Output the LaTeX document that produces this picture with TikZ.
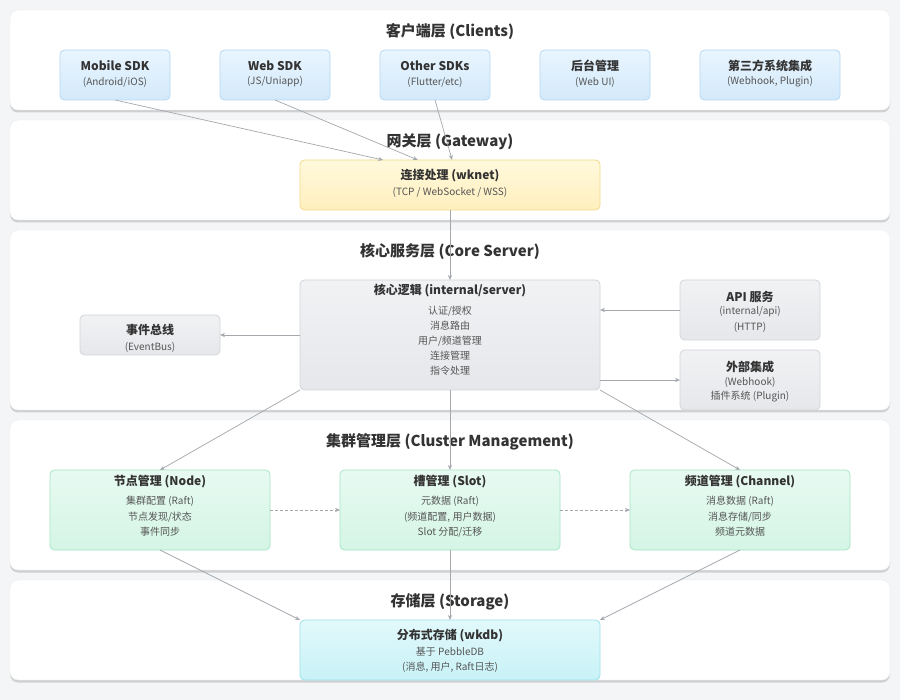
\documentclass[tikz,border=0pt]{standalone}
\usepackage{fontspec}
\setmainfont{Noto Sans CJK SC}
\usetikzlibrary{shadows,arrows.meta,calc}
\definecolor{bgc}{HTML}{F4F5F7}
\definecolor{ttlc}{HTML}{333333}
\definecolor{subc}{HTML}{555555}
\definecolor{arrc}{HTML}{A4A8AD}
\definecolor{cliT}{HTML}{E9F5FE}\definecolor{cliB}{HTML}{D3E9FB}\definecolor{cliD}{HTML}{B3D8F4}
\definecolor{gwT}{HTML}{FFF9DC}\definecolor{gwB}{HTML}{FFEFBE}\definecolor{gwD}{HTML}{F3DA8A}
\definecolor{coT}{HTML}{F1F2F4}\definecolor{coB}{HTML}{E5E7EA}\definecolor{coD}{HTML}{D2D5D9}
\definecolor{clT}{HTML}{E8FAF2}\definecolor{clB}{HTML}{D4F5E5}\definecolor{clD}{HTML}{A6E6C7}
\definecolor{stT}{HTML}{E2F9FB}\definecolor{stB}{HTML}{C8F2F7}\definecolor{stD}{HTML}{9DE2EC}
\begin{document}
\begin{tikzpicture}[x=1pt,y=-1pt,
  layer/.style={draw=black!8,fill=white,rounded corners=8pt,outer sep=0pt,inner sep=0pt,
    drop shadow={shadow xshift=0pt,shadow yshift=-2.5pt,opacity=0.35,fill=black!45}},
  lttl/.style={font=\fontsize{15}{18}\selectfont\bfseries,text=ttlc,inner sep=0pt,yshift=-1.5pt},
  bx/.style={rounded corners=4.5pt,outer sep=0pt,inner sep=0pt,line width=0.8pt},
  cli/.style={bx,draw=cliD,top color=cliT,bottom color=cliB},
  gwy/.style={bx,draw=gwD,top color=gwT,bottom color=gwB},
  cor/.style={bx,draw=coD,top color=coT,bottom color=coB},
  clu/.style={bx,draw=clD,top color=clT,bottom color=clB},
  sto/.style={bx,draw=stD,top color=stT,bottom color=stB},
  bt/.style={font=\fontsize{12}{14}\selectfont\bfseries,text=ttlc,inner sep=0pt,yshift=-1pt},
  bs/.style={font=\fontsize{10}{12}\selectfont,text=subc,inner sep=0pt,yshift=-1pt},
  arr/.style={draw=arrc,line width=0.7pt,-{Stealth[length=5pt,width=4pt]}},
  darr/.style={arr,dash pattern=on 3pt off 2pt}]
\fill[bgc] (0,0) rectangle (900,700);
\useasboundingbox (0,0) rectangle (900,700);

% layers
\node[layer,minimum width=880,minimum height=100] (L1) at (450,60) {};
\node[layer,minimum width=880,minimum height=100] (L2) at (450,170) {};
\node[layer,minimum width=880,minimum height=180] (L3) at (450,320) {};
\node[layer,minimum width=880,minimum height=150] (L4) at (450,495) {};
\node[layer,minimum width=880,minimum height=100] (L5) at (450,630) {};

\node[lttl] (t1) at (450,30) {客户端层 (Clients)};
\node[lttl] (t2) at (450,140) {网关层 (Gateway)};
\node[lttl] (t3) at (450,250) {核心服务层 (Core Server)};
\node[lttl] (t4) at (450,440) {集群管理层 (Cluster Management)};
\node[lttl] (t5) at (450,600) {存储层 (Storage)};

% clients
\node[cli,minimum width=110,minimum height=50] (mob) at (115,75) {};
\node[cli,minimum width=110,minimum height=50] (web) at (275,75) {};
\node[cli,minimum width=110,minimum height=50] (oth) at (435,75) {};
\node[cli,minimum width=110,minimum height=50] (adm) at (595,75) {};
\node[cli,minimum width=140,minimum height=50] (thr) at (770,75) {};
\node[bt] at (115,65) {Mobile SDK};  \node[bs] at (115,81) {(Android/iOS)};
\node[bt] at (275,65) {Web SDK};     \node[bs] at (275,81) {(JS/Uniapp)};
\node[bt] at (435,65) {Other SDKs};  \node[bs] at (435,81) {(Flutter/etc)};
\node[bt] at (595,65) {后台管理};     \node[bs] at (595,81) {(Web UI)};
\node[bt] at (770,65) {第三方系统集成}; \node[bs] at (770,81) {(Webhook, Plugin)};

% gateway
\node[gwy,minimum width=300,minimum height=50] (gw) at (450,185) {};
\node[bt] at (450,175) {连接处理 (wknet)};
\node[bs] at (450,191) {(TCP / WebSocket / WSS)};

% core
\node[cor,minimum width=300,minimum height=110] (core) at (450,335) {};
\node[bt] at (450,290) {核心逻辑 (internal/server)};
\node[bs] at (450,310) {认证/授权};
\node[bs] at (450,325) {消息路由};
\node[bs] at (450,340) {用户/频道管理};
\node[bs] at (450,355) {连接管理};
\node[bs] at (450,370) {指令处理};
\node[cor,minimum width=140,minimum height=40] (eb) at (150,335) {};
\node[bt] at (150,329) {事件总线};
\node[bs] at (150,346) {(EventBus)};
\node[cor,minimum width=140,minimum height=60] (api) at (750,310) {};
\node[bt] at (750,296) {API 服务};
\node[bs] at (750,311) {(internal/api)};
\node[bs] at (750,326) {(HTTP)};
\node[cor,minimum width=140,minimum height=60] (ext) at (750,380) {};
\node[bt] at (750,366) {外部集成};
\node[bs] at (750,381) {(Webhook)};
\node[bs] at (750,396) {插件系统 (Plugin)};

% cluster
\node[clu,minimum width=220,minimum height=80] (nd) at (160,510) {};
\node[bt] at (160,481) {节点管理 (Node)};
\node[bs] at (160,500) {集群配置 (Raft)};
\node[bs] at (160,516) {节点发现/状态};
\node[bs] at (160,531) {事件同步};
\node[clu,minimum width=220,minimum height=80] (sl) at (450,510) {};
\node[bt] at (450,481) {槽管理 (Slot)};
\node[bs] at (450,500) {元数据 (Raft)};
\node[bs] at (450,516) {(频道配置, 用户数据)};
\node[bs] at (450,531) {Slot 分配/迁移};
\node[clu,minimum width=220,minimum height=80] (ch) at (740,510) {};
\node[bt] at (740,481) {频道管理 (Channel)};
\node[bs] at (740,500) {消息数据 (Raft)};
\node[bs] at (740,516) {消息存储/同步};
\node[bs] at (740,531) {频道元数据};

% storage
\node[sto,minimum width=300,minimum height=60] (st) at (450,650) {};
\node[bt] at (450,635) {分布式存储 (wkdb)};
\node[bs] at (450,651) {基于 PebbleDB};
\node[bs] at (450,666) {(消息, 用户, Raft日志)};

% connectors
\draw[arr] (mob.south) -- ($(gw.north west)!0.277!(gw.north east)$);
\draw[arr] (web.south) -- ($(gw.north west)!0.393!(gw.north east)$);
\draw[arr] (oth.south) -- ($(gw.north west)!0.507!(gw.north east)$);
\draw[arr] (gw.south) -- (core.north);
\draw[arr] (core.west) -- (eb.east);
\draw[arr] (api.west) -- (core.east |- api.west);
\draw[arr] (core.east |- ext.west) -- (ext.west);
\draw[arr] (core.south west) -- (nd.north);
\draw[arr] (core.south) -- (sl.north);
\draw[arr] (core.south east) -- (ch.north);
\draw[darr] (nd.east) -- (sl.west);
\draw[darr] (sl.east) -- (ch.west);
\draw[arr] (nd.south) -- (st.north west);
\draw[arr] (sl.south) -- (st.north);
\draw[arr] (ch.south) -- (st.north east);
\end{tikzpicture}
\end{document}
